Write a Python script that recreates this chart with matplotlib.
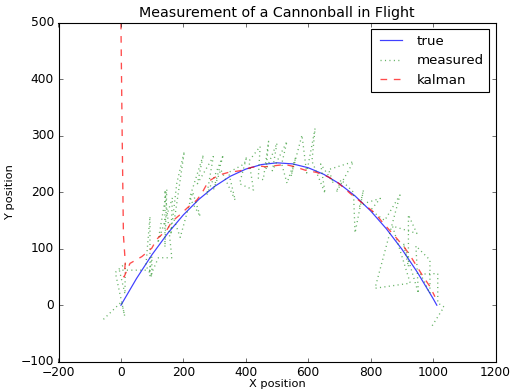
import matplotlib
matplotlib.use("Agg")
import matplotlib.pyplot as plt

plt.style.use("classic")

# true trajectory
true_x = [0, 50, 100, 150, 200, 250, 300, 350, 400, 450, 500, 550, 600, 650,
          700, 750, 800, 850, 900, 950, 1000, 1012]
true_y = [0, 47.3, 89.8, 127.3, 159.8, 187.5, 210.2, 228.1, 240.9, 248.9, 252.0,
          250.1, 243.3, 231.6, 215.0, 193.4, 166.9, 135.5, 99.2, 58.0, 11.8, 0]

# noisy measurements (estimated vertices)
meas_x = [-56, 2, 12, -18, 14, 13, -5, 38, 93, 99, 99, 80, 93, 93, 93, 120, 163,
          141, 141, 147, 118, 165, 160, 179, 203, 171, 190, 230, 254, 220, 264,
          245, 296, 275, 328, 296, 320, 366, 345, 395, 403, 380, 425, 410, 446,
          440, 456, 473, 465, 500, 485, 532, 515, 532, 560, 545, 580, 595, 622,
          612, 654, 640, 681, 665, 745, 690, 705, 745, 750, 777, 765, 790, 831,
          800, 845, 894, 814, 927, 870, 948, 921, 921, 905, 953, 945, 990, 990,
          960, 1015, 1015, 1035, 993]
meas_y = [-25, 6, -19, 58, 74, 20, 62, 62, 62, 86, 50, 70, 157, 97, 50, 84, 84,
          204, 103, 205, 110, 190, 125, 216, 272, 150, 120, 200, 157, 190, 266,
          215, 263, 195, 266, 204, 240, 186, 235, 250, 263, 215, 204, 255, 281,
          225, 222, 290, 240, 287, 238, 290, 250, 216, 262, 228, 301, 234, 313,
          255, 198, 250, 216, 240, 254, 200, 222, 200, 128, 204, 175, 182, 189,
          168, 150, 195, 30, 39, 140, 127, 160, 68, 110, 21, 105, 80, 21,
          55, 56, 4, -3, -40]

# kalman estimate
kal_x = [0, 4, 8, 14, 10, 29, 67, 99, 115, 147, 163, 189, 216, 243, 259, 280,
         312, 344, 382, 419, 451, 462, 526, 558, 590, 627, 665, 697, 734, 782,
         814, 836, 884, 910, 932, 969, 990, 1006]
kal_y = [500, 300, 124, 75, 50, 74, 86, 101, 117, 133, 148, 160, 174, 186, 198,
         219, 230, 235, 238, 244, 246, 245, 249, 245, 239, 235, 227, 216, 198,
         177, 163, 148, 118, 101, 83, 50, 33, 15]

fig = plt.figure(figsize=(6.4, 4.875), dpi=80)
fig.patch.set_facecolor("white")
ax = fig.add_axes([58.5 / 512, 1 - 361.7 / 390, 437 / 512, 339 / 390])

ax.plot(true_x, true_y, "-", color="b", lw=1.1, alpha=0.75, label="true")
ax.plot(meas_x, meas_y, ":", color="g", lw=1.2, alpha=0.6, label="measured")
ax.plot(kal_x, kal_y, "--", color="r", lw=1.2, alpha=0.7, label="kalman")

ax.set_xlim(-200, 1200)
ax.set_ylim(-100, 500)
ax.set_xticks(range(-200, 1201, 200))
ax.set_yticks(range(-100, 501, 100))
ax.tick_params(labelsize=11)
ax.set_title("Measurement of a Cannonball in Flight", fontsize=12.8)
ax.set_xlabel("X position", fontsize=10.2, labelpad=0)
ax.set_ylabel("Y position", fontsize=10.2)
ax.legend(loc="upper right", fontsize=12, handlelength=2.2)

fig.savefig("out.png", dpi=80, facecolor="white")
